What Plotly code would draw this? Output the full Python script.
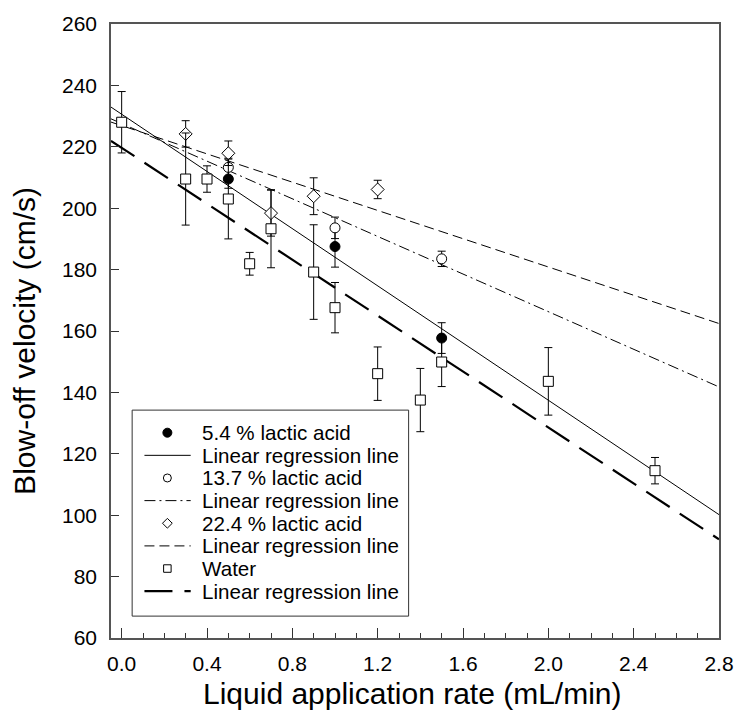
import numpy as np
import plotly.graph_objects as go

# ---- data ----
control_x = 0.0
control_y = 228.0

la54_x = [0.5, 1.0, 1.5]
la54_y = [209.5, 187.5, 157.7]
la54_err = [3.0, 6.7, 5.0]

la137_x = [0.5, 1.0, 1.5]
la137_y = [213.3, 193.6, 183.5]
la137_err = [3.0, 3.5, 2.5]

la224_x = [0.3, 0.5, 0.7, 0.9, 1.2]
la224_y = [224.2, 217.9, 198.4, 203.9, 206.1]
la224_err = [4.3, 4.0, 7.5, 6.0, 3.0]

water_x = [0.0, 0.3, 0.4, 0.5, 0.6, 0.7, 0.9, 1.0, 1.2, 1.4, 1.5, 2.0, 2.5]
water_y = [228.0, 209.5, 209.5, 203.0, 181.9, 193.3, 179.2, 167.6, 146.1, 137.5, 149.9, 143.6, 114.5]
water_err = [10.0, 15.0, 4.3, 13.0, 3.7, 12.7, 15.4, 8.2, 8.7, 10.3, 8.0, 11.0, 4.3]

x_ticks = [0.0, 0.4, 0.8, 1.2, 1.6, 2.0, 2.4, 2.8]
x_ticktext = ["0.0", "0.4", "0.8", "1.2", "1.6", "2.0", "2.4", "2.8"]
X_RANGE = [-0.05, 2.8]
Y_RANGE = [60, 260]

legend_labels = ["5.4 % lactic acid", "Linear regression line",
                 "13.7 % lactic acid", "Linear regression line",
                 "22.4 % lactic acid", "Linear regression line",
                 "Water", "Linear regression line"]

x_title = "Liquid application rate (mL/min)"
y_title = "Blow-off velocity (cm/s)"

FONT = "Liberation Sans, Arial, sans-serif"

# ---- layout geometry (page pixels) ----
W, H = 746, 717
ML, MR, MT, MB = 111, 17, 21, 79
PX0, PX1 = ML, W - MR
PY0, PY1 = MT, H - MB


def paper_x(px):
    return (px - PX0) / (PX1 - PX0)


def paper_y(py):
    return (PY1 - py) / (PY1 - PY0)


fig = go.Figure()


def fit_line(xs, ys):
    slope, intercept = np.polyfit(xs, ys, 1)
    lx = np.array(X_RANGE)
    return lx, intercept + slope * lx


series = [
    ([control_x] + la54_x, [control_y] + la54_y, la54_x, la54_y, la54_err,
     dict(symbol="circle", color="black"), 10, 9,
     dict(color="black", width=1, dash="solid")),
    ([control_x] + la137_x, [control_y] + la137_y, la137_x, la137_y, la137_err,
     dict(symbol="circle", color="white"), 10, 8,
     dict(color="black", width=1, dash="11px,4px,2px,4px")),
    ([control_x] + la224_x, [control_y] + la224_y, la224_x, la224_y, la224_err,
     dict(symbol="diamond", color="white"), 10, 7.5,
     dict(color="black", width=1, dash="10px,5px")),
    (water_x, water_y, water_x, water_y, water_err,
     dict(symbol="square", color="white"), 10, 7.5,
     dict(color="black", width=2.2, dash="28px,12px")),
]

# regression lines
for fx, fy, mx, my, merr, mk, msize, lsize, ln in series:
    lx, ly = fit_line(fx, fy)
    fig.add_trace(go.Scatter(x=lx, y=ly, mode="lines", line=ln,
                             showlegend=False, hoverinfo="skip"))

# data points with error bars
for fx, fy, mx, my, merr, mk, msize, lsize, ln in series:
    fig.add_trace(go.Scatter(
        x=mx, y=my, mode="markers",
        marker=dict(symbol=mk["symbol"], size=msize, color=mk["color"],
                    line=dict(color="black", width=1)),
        error_y=dict(type="data", array=merr, visible=True, color="black",
                     thickness=1, width=4),
        showlegend=False, cliponaxis=False))

# ---- hand-built legend on a pixel-mapped overlay axis ----
LEG_BOX = (132.5, 413.5, 409, 616)
ROW0, ROW_STEP = 431.7, 22.75
SYM_X, LINE_X0, LINE_X1, TEXT_X = 168.3, 145, 192, 201

bx0, bx1, by0, by1 = LEG_BOX
fig.add_trace(go.Scatter(
    x=[bx0, bx1, bx1, bx0, bx0], y=[by0, by0, by1, by1, by0],
    xaxis="x2", yaxis="y2", mode="lines", fill="toself", fillcolor="white",
    line=dict(color="#333", width=1), showlegend=False, hoverinfo="skip"))

for i, (fx, fy, mx, my, merr, mk, msize, lsize, ln) in enumerate(series):
    ym = ROW0 + ROW_STEP * (2 * i)
    yl = ROW0 + ROW_STEP * (2 * i + 1)
    fig.add_trace(go.Scatter(
        x=[SYM_X], y=[ym], xaxis="x2", yaxis="y2", mode="markers",
        marker=dict(symbol=mk["symbol"], size=lsize, color=mk["color"],
                    line=dict(color="black", width=1)),
        showlegend=False, hoverinfo="skip"))
    fig.add_trace(go.Scatter(
        x=[LINE_X0, LINE_X1], y=[yl, yl], xaxis="x2", yaxis="y2", mode="lines",
        line=ln, showlegend=False, hoverinfo="skip"))

for j, lab in enumerate(legend_labels):
    fig.add_annotation(x=TEXT_X, y=ROW0 + ROW_STEP * j, xref="x2", yref="y2",
                       text=lab, showarrow=False, xanchor="left", yanchor="middle",
                       font=dict(family=FONT, size=20.6, color="black"))

# axis titles (paper coordinates)
fig.add_annotation(x=paper_x(417.5), y=paper_y(694), xref="paper", yref="paper",
                   text=x_title, showarrow=False,
                   xanchor="center", yanchor="middle",
                   font=dict(family=FONT, size=30, color="black"))
fig.add_annotation(x=paper_x(23), y=paper_y(339), xref="paper", yref="paper",
                   text=y_title, showarrow=False,
                   textangle=-90, xanchor="center", yanchor="middle",
                   font=dict(family=FONT, size=30, color="black"))

fig.update_layout(
    width=W, height=H,
    margin=dict(l=ML, r=MR, t=MT, b=MB),
    paper_bgcolor="white", plot_bgcolor="white",
    font=dict(family=FONT, color="black"),
    showlegend=False,
    xaxis=dict(
        range=X_RANGE, tickvals=x_ticks, ticktext=x_ticktext,
        ticks="inside", ticklen=10, tickwidth=1, tickcolor="#333",
        minor=dict(ticks="inside", ticklen=5, dtick=0.1, tick0=0, tickcolor="#333"),
        showgrid=False, zeroline=False,
        showline=True, linecolor="#555", linewidth=1.5, mirror=True,
        tickfont=dict(family=FONT, size=21), ticklabelstandoff=6,
    ),
    yaxis=dict(
        range=Y_RANGE, dtick=20, tick0=60,
        ticks="inside", ticklen=8, tickwidth=1, tickcolor="#333",
        showgrid=False, zeroline=False,
        showline=True, linecolor="#555", linewidth=1.5, mirror=True,
        tickfont=dict(family=FONT, size=21), ticklabelstandoff=8,
    ),
    xaxis2=dict(overlaying="x", anchor="y2", range=[PX0, PX1], visible=False,
                fixedrange=True),
    yaxis2=dict(overlaying="y", anchor="x2", range=[PY1, PY0], visible=False,
                fixedrange=True),
)

fig.write_html("out.html")
